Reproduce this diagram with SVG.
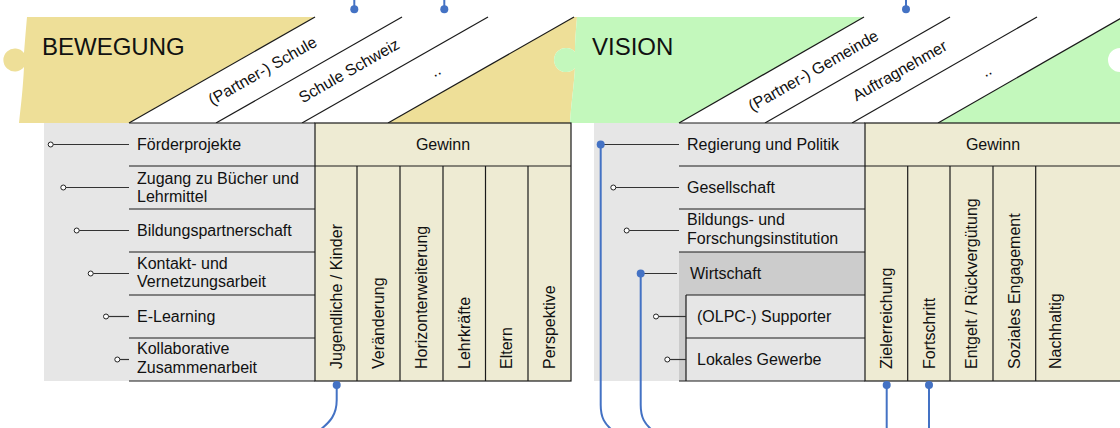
<svg xmlns="http://www.w3.org/2000/svg" width="1120" height="428" viewBox="0 0 1120 428">
<style>
text{font-family:"Liberation Sans",Arial,sans-serif;fill:#111;}
.t{font-size:16px;}
.title{font-size:24px;}
.ln{stroke:#1a1a1a;stroke-width:1.2;fill:none;}
.stub{stroke:#333;stroke-width:1.2;fill:none;}
.oc{fill:#fff;stroke:#222;stroke-width:1;}
.blue{stroke:#4472C4;stroke-width:2;fill:none;}
.bdot{fill:#4472C4;}
.grey{fill:#E6E6E6;}
.beige{fill:#EEEBD3;stroke:#1a1a1a;stroke-width:1.2;}
.mid{text-anchor:middle;}
</style>
<rect width="1120" height="428" fill="#fff"/>

<!-- Panel BEWEGUNG -->
<g id="panel-bewegung">
<path d="M27,17 L577,17 C576,30 575,40 575,52 A12,12 0 1 0 575,68 C574,85 571,105 570,123 L19,123 C21,105 23,88 24,67 A11.5,11.5 0 1 1 24,53 C25,40 26,28 27,17 Z" fill="#EEDF98"/>
<polygon points="129,123 315,17 574,17 388,123" fill="#fff"/>
<line class="ln" x1="129" y1="123" x2="315" y2="17"/>
<line class="ln" x1="216" y1="123" x2="402" y2="17"/>
<line class="ln" x1="302" y1="123" x2="488" y2="17"/>
<line class="ln" x1="388" y1="123" x2="574" y2="17"/>
<text class="title" x="42" y="55">BEWEGUNG</text>
</g>
<g id="stakeholder-partner-schule"><text class="t mid" transform="translate(265.2,75.4) rotate(-29.7)">(Partner-) Schule</text></g>
<g id="stakeholder-schule-schweiz"><text class="t mid" transform="translate(351.7,75.4) rotate(-29.7)">Schule Schweiz</text></g>
<g id="stakeholder-more-left"><text class="t mid" transform="translate(438.2,75.4) rotate(-29.7)">..</text></g>

<!-- Panel VISION -->
<g id="panel-vision">
<path d="M577,17 L1120,17 L1120,48 A12,12 0 0 0 1120,72 L1120,123 L570,123 C571,105 574,85 575,68 A12,12 0 1 1 575,52 C575,40 576,30 577,17 Z" fill="#C3F8BC"/>
<polygon points="679,123 864,17 1120,17 1120,18.7 938,123" fill="#fff"/>
<line class="ln" x1="679" y1="123" x2="864" y2="17"/>
<line class="ln" x1="765" y1="123" x2="950" y2="17"/>
<line class="ln" x1="852" y1="123" x2="1037" y2="17"/>
<line class="ln" x1="938" y1="123" x2="1123" y2="17"/>
<text class="title" x="592" y="55">VISION</text>
</g>
<g id="stakeholder-partner-gemeinde"><text class="t mid" transform="translate(816,75.4) rotate(-29.7)">(Partner-) Gemeinde</text></g>
<g id="stakeholder-auftragnehmer"><text class="t mid" transform="translate(902.5,75.4) rotate(-29.7)">Auftragnehmer</text></g>
<g id="stakeholder-more-right"><text class="t mid" transform="translate(989,75.4) rotate(-29.7)">..</text></g>

<!-- Left table -->
<g id="table-left">
<rect class="grey" x="44" y="123" width="271" height="258"/>
<line class="ln" x1="129" y1="123" x2="315" y2="123"/>
<line class="ln" x1="129" y1="166" x2="315" y2="166"/>
<line class="ln" x1="129" y1="209" x2="315" y2="209"/>
<line class="ln" x1="129" y1="252" x2="315" y2="252"/>
<line class="ln" x1="129" y1="295" x2="315" y2="295"/>
<line class="ln" x1="129" y1="338" x2="315" y2="338"/>
<line class="ln" x1="129" y1="381" x2="315" y2="381"/>
</g>
<g id="row-foerderprojekte"><text class="t" x="137" y="150">Förderprojekte</text></g>
<g id="row-zugang"><text class="t" x="137" y="183.5">Zugang zu Bücher und</text><text class="t" x="137" y="202">Lehrmittel</text></g>
<g id="row-bildungspartnerschaft"><text class="t" x="137" y="236">Bildungspartnerschaft</text></g>
<g id="row-kontakt"><text class="t" x="137" y="268.5">Kontakt- und</text><text class="t" x="137" y="287.3">Vernetzungsarbeit</text></g>
<g id="row-elearning"><text class="t" x="137" y="322">E-Learning</text></g>
<g id="row-kollaborative"><text class="t" x="137" y="354">Kollaborative</text><text class="t" x="137" y="372.7">Zusammenarbeit</text></g>

<g id="gewinn-left">
<rect class="beige" x="315" y="123" width="256" height="258"/>
<line class="ln" x1="315" y1="166" x2="571" y2="166"/>
<line class="ln" x1="357" y1="166" x2="357" y2="381"/>
<line class="ln" x1="400" y1="166" x2="400" y2="381"/>
<line class="ln" x1="443" y1="166" x2="443" y2="381"/>
<line class="ln" x1="485.5" y1="166" x2="485.5" y2="381"/>
<line class="ln" x1="528" y1="166" x2="528" y2="381"/>
<text class="t mid" x="443" y="150">Gewinn</text>
</g>
<g id="col-jugendliche"><text class="t" transform="translate(341.5,369) rotate(-90)">Jugendliche / Kinder</text></g>
<g id="col-veraenderung"><text class="t" transform="translate(384,369) rotate(-90)">Veränderung</text></g>
<g id="col-horizont"><text class="t" transform="translate(427,369) rotate(-90)">Horizonterweiterung</text></g>
<g id="col-lehrkraefte"><text class="t" transform="translate(469.5,369) rotate(-90)">Lehrkräfte</text></g>
<g id="col-eltern"><text class="t" transform="translate(512,369) rotate(-90)">Eltern</text></g>
<g id="col-perspektive"><text class="t" transform="translate(555,369) rotate(-90)">Perspektive</text></g>

<!-- Right table -->
<g id="table-right">
<rect class="grey" x="594" y="123" width="271" height="258"/>
<rect x="679" y="252" width="186" height="129" fill="#CCCCCC"/>
<rect x="686" y="295" width="179" height="86" fill="#E6E6E6"/>
<line class="ln" x1="679" y1="123" x2="865" y2="123"/>
<line class="ln" x1="679" y1="166" x2="865" y2="166"/>
<line class="ln" x1="679" y1="209" x2="865" y2="209"/>
<line class="ln" x1="679" y1="252" x2="865" y2="252"/>
<line class="ln" x1="686" y1="295" x2="865" y2="295"/>
<line class="ln" x1="686" y1="338" x2="865" y2="338"/>
<line class="ln" x1="679" y1="381" x2="865" y2="381"/>
<line class="ln" x1="686" y1="295" x2="686" y2="381"/>
</g>
<g id="row-regierung"><text class="t" x="687" y="150">Regierung und Politik</text></g>
<g id="row-gesellschaft"><text class="t" x="687" y="193">Gesellschaft</text></g>
<g id="row-bildungsinstitution"><text class="t" x="687" y="225">Bildungs- und</text><text class="t" x="687" y="244">Forschungsinstitution</text></g>
<g id="row-wirtschaft"><text class="t" x="690" y="278.5">Wirtschaft</text></g>
<g id="row-supporter"><text class="t" x="697" y="322">(OLPC-) Supporter</text></g>
<g id="row-gewerbe"><text class="t" x="697" y="365">Lokales Gewerbe</text></g>

<g id="gewinn-right">
<rect class="beige" x="865" y="123" width="256" height="258"/>
<line class="ln" x1="865" y1="166" x2="1121" y2="166"/>
<line class="ln" x1="907.7" y1="166" x2="907.7" y2="381"/>
<line class="ln" x1="950" y1="166" x2="950" y2="381"/>
<line class="ln" x1="993" y1="166" x2="993" y2="381"/>
<line class="ln" x1="1035.7" y1="166" x2="1035.7" y2="381"/>
<text class="t mid" x="993" y="150">Gewinn</text>
</g>
<g id="col-zielerreichung"><text class="t" transform="translate(892,369) rotate(-90)">Zielerreichung</text></g>
<g id="col-fortschritt"><text class="t" transform="translate(934.5,369) rotate(-90)">Fortschritt</text></g>
<g id="col-entgelt"><text class="t" transform="translate(977,369) rotate(-90)">Entgelt / Rückvergütung</text></g>
<g id="col-sozial"><text class="t" transform="translate(1019.7,369) rotate(-90)">Soziales Engagement</text></g>
<g id="col-nachhaltig"><text class="t" transform="translate(1060.5,369) rotate(-90)">Nachhaltig</text></g>

<!-- Connectors -->
<g id="connectors">
<line class="stub" x1="53.2" y1="144.5" x2="129" y2="144.5"/><circle class="oc" cx="50.7" cy="144.5" r="2.5"/>
<line class="stub" x1="65.8" y1="187.5" x2="129" y2="187.5"/><circle class="oc" cx="63.3" cy="187.5" r="2.5"/>
<line class="stub" x1="79.2" y1="230.5" x2="129" y2="230.5"/><circle class="oc" cx="76.7" cy="230.5" r="2.5"/>
<line class="stub" x1="93.2" y1="273.5" x2="129" y2="273.5"/><circle class="oc" cx="90.7" cy="273.5" r="2.5"/>
<line class="stub" x1="108.5" y1="316.5" x2="129" y2="316.5"/><circle class="oc" cx="106" cy="316.5" r="2.5"/>
<line class="stub" x1="119.8" y1="359.5" x2="129" y2="359.5"/><circle class="oc" cx="117.3" cy="359.5" r="2.5"/>

<line class="stub" x1="601" y1="144.5" x2="679" y2="144.5"/>
<line class="stub" x1="615.8" y1="187.5" x2="679" y2="187.5"/><circle class="oc" cx="613.3" cy="187.5" r="2.5"/>
<line class="stub" x1="629.2" y1="230.5" x2="679" y2="230.5"/><circle class="oc" cx="626.7" cy="230.5" r="2.5"/>
<line class="stub" x1="641" y1="273.5" x2="677" y2="273.5"/>
<line class="stub" x1="658.5" y1="316.5" x2="686" y2="316.5"/><circle class="oc" cx="656" cy="316.5" r="2.5"/>
<line class="stub" x1="669.8" y1="359.5" x2="686" y2="359.5"/><circle class="oc" cx="667.3" cy="359.5" r="2.5"/>

<path class="blue" d="M354.3,0 V9.3"/><circle class="bdot" cx="354.3" cy="9.3" r="4"/>
<path class="blue" d="M444.3,0 V9.3"/><circle class="bdot" cx="444.3" cy="9.3" r="4"/>
<path class="blue" d="M906,0 V9.3"/><circle class="bdot" cx="906" cy="9.3" r="4"/>

<path class="blue" d="M336.7,385 V400 C336.7,415 330,422 320,430"/><circle class="bdot" cx="336.7" cy="385" r="4"/>
<path class="blue" d="M600.7,144.5 V405 C600.7,418 605,424 612,430"/><circle class="bdot" cx="600.7" cy="144.5" r="4"/>
<path class="blue" d="M640.7,273.5 V405 C640.7,418 645,424 652,430"/><circle class="bdot" cx="640.7" cy="273.5" r="4"/>
<path class="blue" d="M886.7,385 V430"/><circle class="bdot" cx="886.7" cy="385" r="4"/>
<path class="blue" d="M929,385 V430"/><circle class="bdot" cx="929" cy="385" r="4"/>
</g>
</svg>
